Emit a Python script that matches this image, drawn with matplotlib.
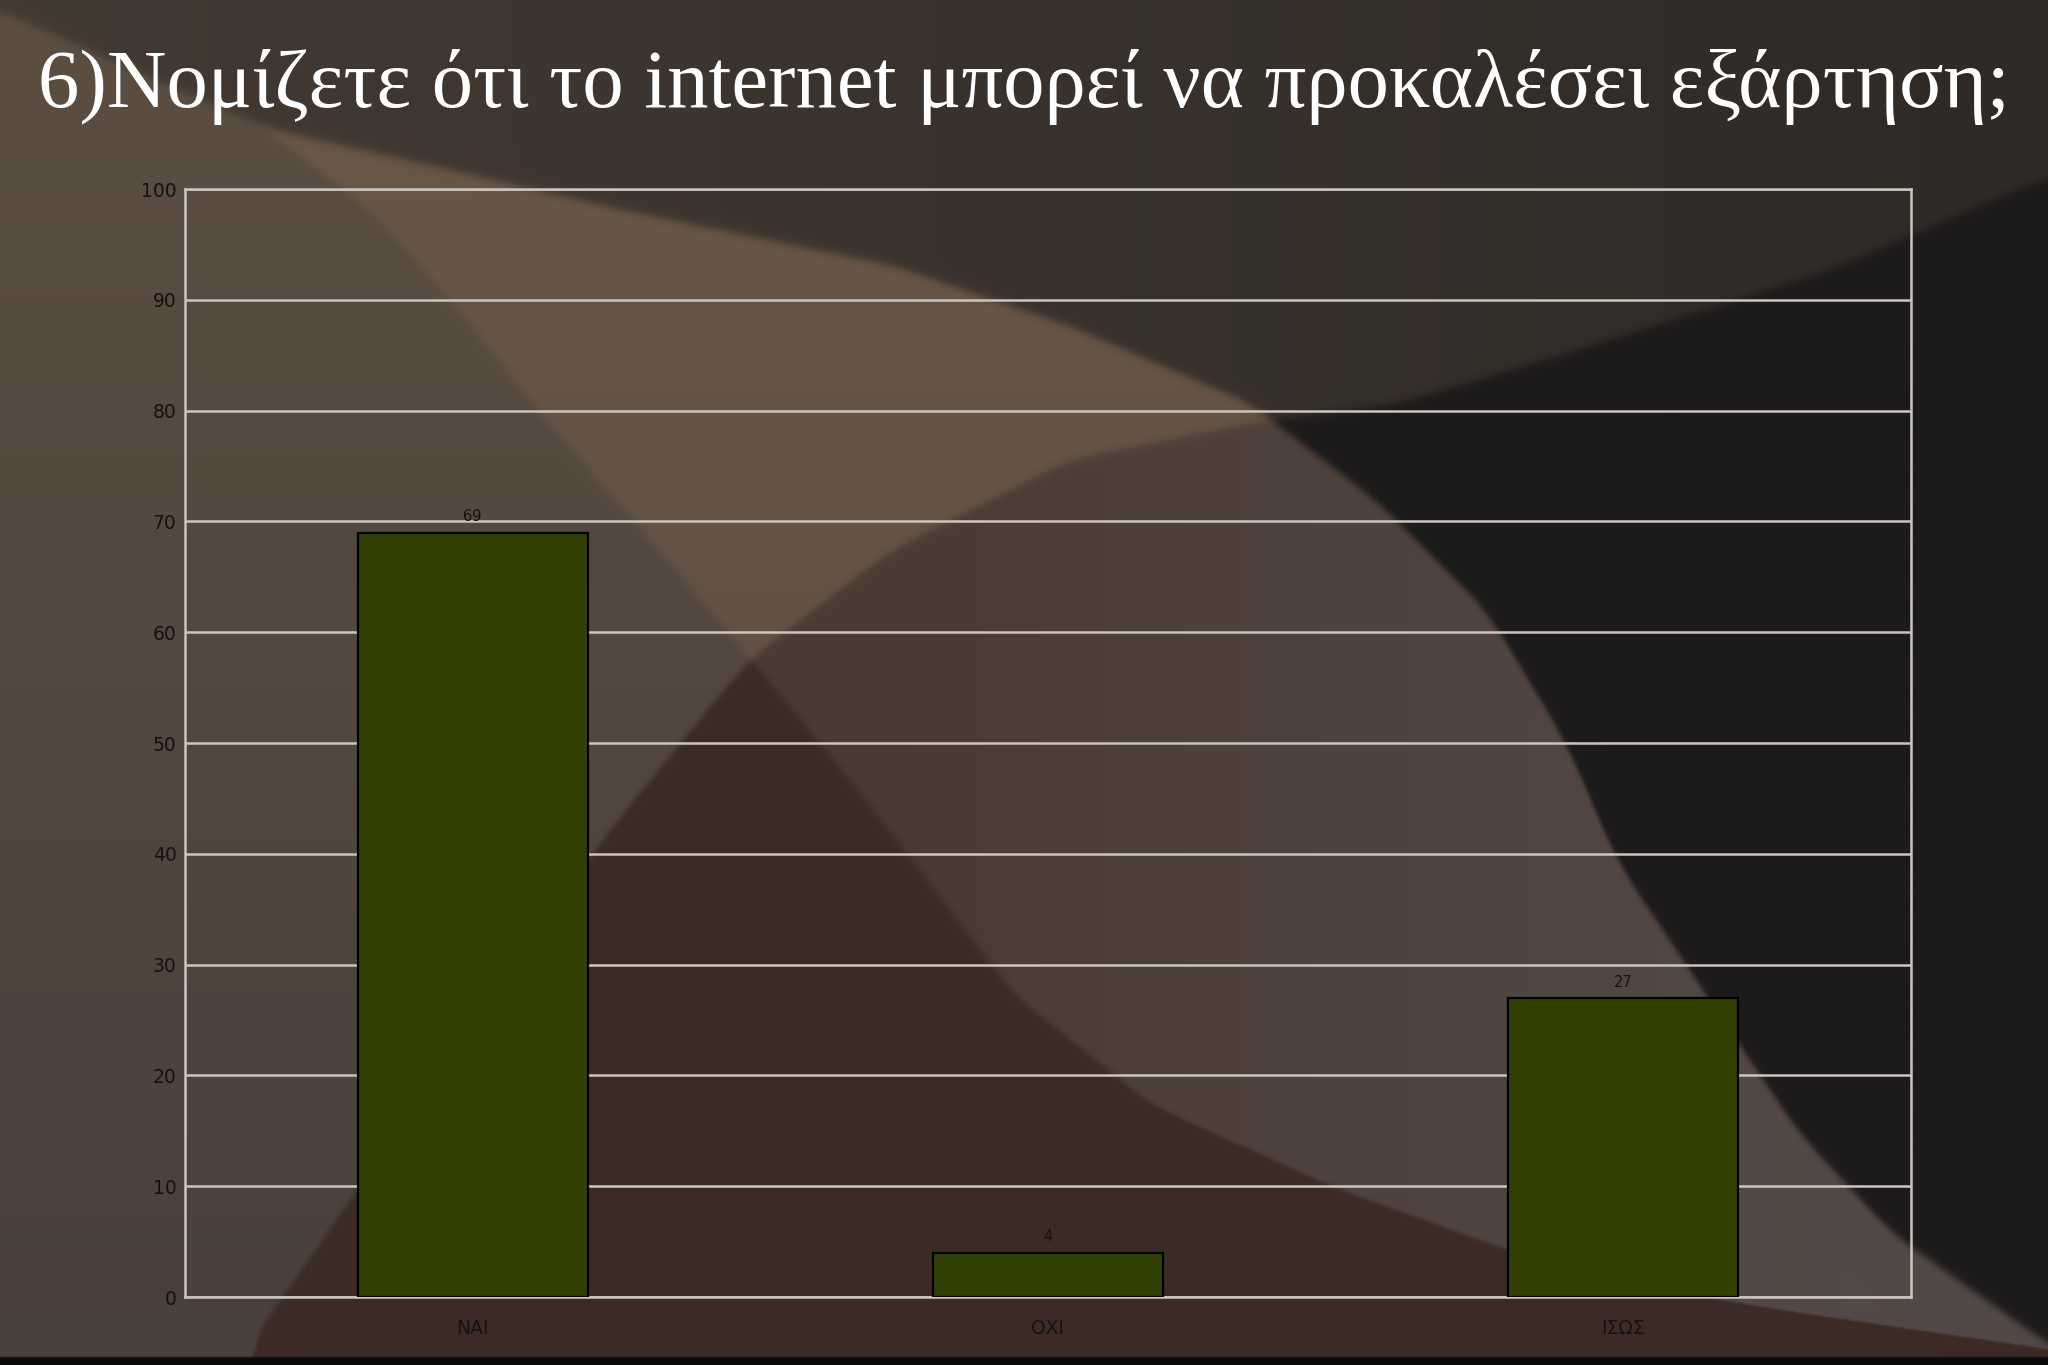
import numpy as np
import matplotlib
matplotlib.use("Agg")
from matplotlib import pyplot as plt
from matplotlib.colors import to_rgb

# dados do grafico
categorias = ["ΝΑΙ", "ΟΧΙ", "ΙΣΩΣ"]
valores = [69, 4, 27]
titulo = "6)Νομίζετε ότι το internet μπορεί να προκαλέσει εξάρτηση;"
yticks = [0, 10, 20, 30, 40, 50, 60, 70, 80, 90, 100]

W, H = 2048, 1365


def curva(xp, yp, q, janela=41):
    # interpola e suaviza a curva poligonal
    g = np.linspace(xp[0], xp[-1], 2000)
    v = np.interp(g, xp, yp)
    pad = janela // 2
    vv = np.concatenate([np.full(pad, v[0]), v, np.full(pad, v[-1])])
    v = np.convolve(vv, np.ones(janela) / janela, mode="valid")
    return np.interp(q, g, v)


def fundo():
    # fundo decorativo (curvas em pixels da figura)
    h, w = 683, 1024
    x = np.linspace(0, W, w)[None, :].repeat(h, 0)
    y = np.linspace(0, H, h)[:, None].repeat(w, 1)

    def sig(d, s=2.5):
        return 1.0 / (1.0 + np.exp(-np.clip(d / s, -50, 50)))

    xD = curva([0, 117, 214, 316, 408, 510, 658, 800, 997, 1107, 1190, 1256, 1300, 1350, 1400],
               [0, 250, 375, 464, 536, 625, 750, 866, 1016, 1154, 1339, 1523, 1708, 2048, 2400], y)
    yS = curva([0, 268, 446, 625, 893, 1071, 1250, 1376, 1487, 1570, 1616, 1708, 1800, 1893, 2048, 2200],
               [10, 128, 168, 210, 265, 326, 403, 500, 610, 748, 859, 997, 1134, 1234, 1344, 1420], x)
    yA = curva([0, 180, 235, 420, 600, 748, 890, 1071, 1250, 1400, 1567, 1830, 2048],
               [2600, 2000, 1365, 1100, 842, 660, 551, 459, 423, 403, 353, 270, 176], x, 61)

    dirD = sig(x - xD)
    abaixoS = sig(y - yS)
    abaixoA = sig(y - yA)

    def cor(c):
        return np.array(to_rgb(c))[None, None, :]

    t = (y / H)[..., None]
    k = (x / W)[..., None]
    k2 = np.clip((x / W - 0.45) / 0.45, 0, 1)[..., None]
    topo = cor("#433a32") * (1 - k) + cor("#2f2a27") * k
    preto = cor("#1c1a1a")
    clara = cor("#6a5848") * (1 - t) + cor("#5c4c40") * t
    media = cor("#4c3b33") * (1 - k2) + cor("#534a47") * k2
    esq = cor("#5c4e41") * (1 - t) + cor("#4a403b") * t
    escura = cor("#3c2b25")

    a = abaixoA[..., None]
    s = abaixoS[..., None]
    d = dirD[..., None]
    acimaS = topo * (1 - a) + preto * a
    dir_ = clara * (1 - a) + media * a
    esq_ = esq * (1 - a) + escura * a
    baixo = dir_ * d + esq_ * (1 - d)
    img = acimaS * (1 - s) + baixo * s
    # faixa preta embaixo
    img[y > 1357] = to_rgb("#0d0b0a")
    return np.clip(img, 0, 1)


fig = plt.figure(figsize=(20.48, 13.65), dpi=100)
bg = fig.add_axes([0, 0, 1, 1])
bg.imshow(fundo(), aspect="auto", interpolation="bilinear", extent=[0, 1, 0, 1])
bg.set_axis_off()

fig.text(0.5, 0.936, titulo, ha="center", va="center", color="white",
         fontsize=59.5, family="Liberation Serif")

ax = fig.add_axes([0.0903, 0.0498, 0.8427, 0.8117])
ax.patch.set_alpha(0)
x = np.arange(len(categorias))
barras = ax.bar(x, valores, width=0.4, color="#323f05", edgecolor="black",
                linewidth=1.6, zorder=3)
ax.set_xlim(-0.5, len(categorias) - 0.5)
ax.set_ylim(0, 100)
ax.set_yticks(yticks)
ax.set_xticks(x)
ax.set_xticklabels(categorias)
ax.yaxis.grid(True, color="#cbc6c0", linewidth=1.8, zorder=1)
ax.set_axisbelow(True)
for s in ax.spines.values():
    s.set_color("#cbc6c0")
    s.set_linewidth(1.8)
ax.tick_params(length=0, labelcolor="#141210", labelsize=13.5)
ax.tick_params(axis="x", pad=16)
ax.tick_params(axis="y", pad=6)
for b, val in zip(barras, valores):
    ax.annotate(str(val), (b.get_x() + b.get_width() / 2, val),
                xytext=(0, 6), textcoords="offset points", ha="center",
                va="bottom", fontsize=10.5, color="#141210")

fig.savefig("out.png", dpi=100)
